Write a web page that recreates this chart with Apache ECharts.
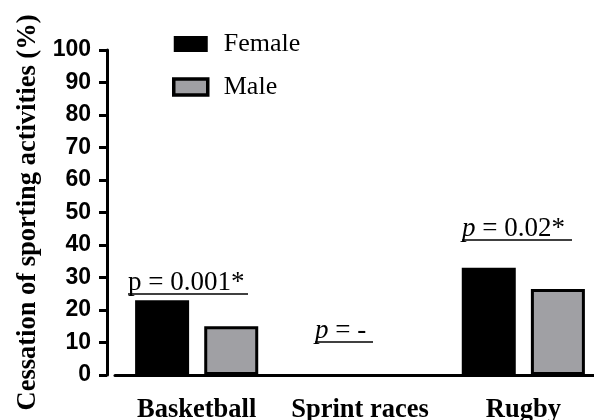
<!DOCTYPE html>
<html><head><meta charset="utf-8">
<script src="https://cdn.jsdelivr.net/npm/echarts@6/dist/echarts.min.js"></script>
<style>html,body{margin:0;padding:0;background:#fff}#c{width:594px;height:420px}</style>
</head><body><div id="c"></div>
<script>
const categories = ['Basketball', 'Sprint races', 'Rugby'];
const femaleValues = [23, 0, 33];
const maleValues = [15, 0, 26.5];
const yTicks = [0, 10, 20, 30, 40, 50, 60, 70, 80, 90, 100];
const pLabels = ['p = 0.001*', 'p = -', 'p = 0.02*'];

const serif = '"Liberation Serif", "Times New Roman", serif';
const sans = '"Liberation Sans", Arial, sans-serif';
const chart = echarts.init(document.getElementById('c'));

function ann(x, yMid, w, txt, italic) {
  return [
    { type: 'text', x: x, y: yMid, z: 10,
      style: { text: italic ? '{i|p}' + txt.slice(1) : txt, font: '27px ' + serif, fill: '#000',
        verticalAlign: 'middle', align: 'left',
        rich: { i: { fontStyle: 'italic', fontFamily: serif, fontSize: 27 } } } },
    { type: 'line', z: 10, shape: { x1: x, y1: yMid + 11, x2: x + w, y2: yMid + 11 }, style: { stroke: '#000', lineWidth: 1.3 } }
  ];
}

chart.setOption({
  animation: false,
  grid: { left: 115, top: 50, width: 490, bottom: 45, containLabel: false, outerBoundsMode: 'none' },
  legend: {
    orient: 'vertical', left: 167, top: 26, itemWidth: 34, itemHeight: 16, itemGap: 17,
    icon: 'rect',
    textStyle: { fontFamily: serif, fontSize: 26, lineHeight: 26, color: '#000', padding: [0, 0, 0, 11] },
    data: [
      { name: 'Female', itemStyle: { color: '#000', borderWidth: 0 } },
      { name: 'Male', itemStyle: { color: '#a0a0a4', borderColor: '#000', borderWidth: 3.5 } }
    ]
  },
  xAxis: {
    type: 'category', data: categories, boundaryGap: true,
    axisLine: { lineStyle: { color: '#000', width: 3 } },
    axisTick: { alignWithLabel: true, length: 11, lineStyle: { color: '#000', width: 3 } },
    axisLabel: { interval: 0, fontFamily: serif, fontWeight: 'bold', fontSize: 26.5, color: '#000', margin: 22 }
  },
  yAxis: {
    type: 'value', min: yTicks[0], max: yTicks[yTicks.length - 1], interval: 10, offset: 8,
    splitLine: { show: false },
    axisLine: { show: true, lineStyle: { color: '#000', width: 3 } },
    axisTick: { show: true, length: 8, lineStyle: { color: '#000', width: 3 } },
    axisLabel: { fontFamily: sans, fontWeight: 'bold', fontSize: 23, color: '#000', margin: 16 },
    name: 'Cessation of sporting activities (%)', nameLocation: 'middle', nameGap: 65,
    nameTextStyle: { fontFamily: serif, fontWeight: 'bold', fontSize: 26.5, color: '#000' }
  },
  series: [
    { name: 'Female', type: 'bar', data: femaleValues, barWidth: 54, barGap: '28%',
      itemStyle: { color: '#000' } },
    { name: 'Male', type: 'bar', barWidth: 54,
      data: maleValues.map(v => ({ value: v, itemStyle: v === 0 ? { borderWidth: 0 } : {} })),
      itemStyle: { color: '#a0a0a4', borderColor: '#000', borderWidth: 3 } }
  ],
  graphic: [].concat(
    ann(128, 283, 120, pLabels[0], false),
    ann(315, 331, 58, pLabels[1], true),
    ann(462, 229, 110, pLabels[2], true)
  )
});
</script></body></html>
